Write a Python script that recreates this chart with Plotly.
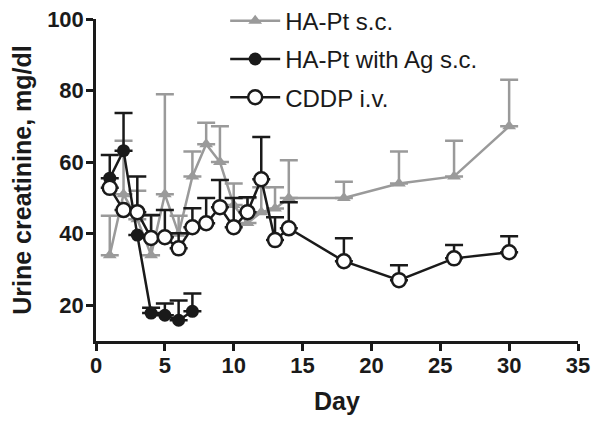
import plotly.graph_objects as go

# HA-Pt s.c. (grey triangles)
days_hapt = [1, 2, 3, 4, 5, 6, 7, 8, 9, 10, 11, 12, 13, 14, 18, 22, 26, 30]
hapt_vals = [34, 51, 44, 34, 51, 40, 56, 65, 60, 48, 43, 46, 47, 50, 50, 54, 56, 70]
hapt_err = [11, 15, 8, 11, 28, 5, 7, 6, 10, 6, 7, 7, 6, 10.5, 4.5, 9, 10, 13]

# HA-Pt with Ag s.c. (black filled circles)
days_ag = [1, 2, 3, 4, 5, 6, 7]
ag_vals = [55.5, 63.2, 39.6, 17.8, 17.2, 15.8, 18.3]
ag_err = [6.5, 10.5, 0, 1.5, 3.3, 5.5, 5]

# CDDP i.v. (open circles)
days_cddp = [1, 2, 3, 4, 5, 6, 7, 8, 9, 10, 11, 12, 13, 14, 18, 22, 26, 30]
cddp_vals = [52.8, 46.6, 46, 38.8, 39, 35.9, 41.8, 42.9, 47.4, 41.8, 46, 55.2, 38.2, 41.5, 32.3, 27, 33.1, 34.8]
cddp_err = [0, 0, 10, 6.4, 7.6, 4.2, 5.3, 7.1, 7.6, 8.2, 4.2, 11.8, 6.4, 7.3, 6.4, 4.2, 3.7, 4.5]

x_ticks = [0, 5, 10, 15, 20, 25, 30, 35]
y_ticks = [20, 40, 60, 80, 100]

GREY = "#9a9a9a"
BLACK = "#1a1a1a"
FONT = "Liberation Sans, Arial, sans-serif"
LW = 2.5

fig = go.Figure()

fig.add_trace(go.Scatter(
    x=days_hapt, y=hapt_vals, name="HA-Pt s.c.", mode="lines+markers",
    legendgroup="a",
    line=dict(color=GREY, width=LW),
    marker=dict(symbol="triangle-up", size=12, color=GREY),
    error_y=dict(type="data", array=hapt_err, arrayminus=[0]*len(hapt_err),
                 symmetric=False, color=GREY, thickness=LW, width=9),
))

fig.add_trace(go.Scatter(
    x=days_ag, y=ag_vals, name="HA-Pt with Ag s.c.", mode="lines+markers",
    legendgroup="b",
    line=dict(color=BLACK, width=LW),
    marker=dict(symbol="circle", size=13, color=BLACK),
    error_y=dict(type="data", array=ag_err, arrayminus=[0]*len(ag_err),
                 symmetric=False, color=BLACK, thickness=LW, width=9),
))

fig.add_trace(go.Scatter(
    x=days_cddp, y=cddp_vals, name="CDDP i.v.", mode="lines+markers",
    legendgroup="c",
    line=dict(color=BLACK, width=LW),
    marker=dict(symbol="circle", size=14, color="white",
                line=dict(color=BLACK, width=LW)),
    error_y=dict(type="data", array=cddp_err, arrayminus=[0]*len(cddp_err),
                 symmetric=False, color=BLACK, thickness=LW, width=9),
))

fig.update_layout(
    width=600, height=428,
    margin=dict(l=96, r=22, t=19, b=87, autoexpand=False),
    paper_bgcolor="white", plot_bgcolor="white",
    font=dict(family=FONT, color=BLACK),
    showlegend=True,
    legend=dict(
        x=0.268, y=1.063, xanchor="left", yanchor="top",
        font=dict(size=24, family=FONT, color=BLACK),
        bgcolor="rgba(0,0,0,0)", traceorder="grouped", tracegroupgap=4,
        itemwidth=50,
    ),
    xaxis=dict(
        range=[0, 35], tickvals=x_ticks, ticktext=[str(v) for v in x_ticks],
        showline=True, linecolor=BLACK, linewidth=LW,
        ticks="outside", ticklen=7, tickwidth=LW, tickcolor=BLACK,
        showgrid=False, zeroline=False, ticklabelstandoff=-4,
        ticklabeloverflow="allow",
        tickfont=dict(size=22, family=FONT, color=BLACK, weight="bold"),
        title=dict(text="<b>Day</b>", font=dict(size=25, family=FONT, color=BLACK), standoff=16),
    ),
    yaxis=dict(
        range=[10, 100], tickvals=y_ticks, ticktext=[str(v) for v in y_ticks],
        showline=True, linecolor=BLACK, linewidth=LW,
        ticks="outside", ticklen=7, tickwidth=LW, tickcolor=BLACK,
        showgrid=False, zeroline=False, ticklabelstandoff=-2,
        ticklabeloverflow="allow",
        tickfont=dict(size=22, family=FONT, color=BLACK, weight="bold"),
        title=dict(text="<b>Urine creatinine, mg/dl</b>", font=dict(size=25, family=FONT, color=BLACK), standoff=9),
    ),
)

fig.write_html("out.html", config={"displayModeBar": False},
               post_script="document.body.style.margin='0';")
